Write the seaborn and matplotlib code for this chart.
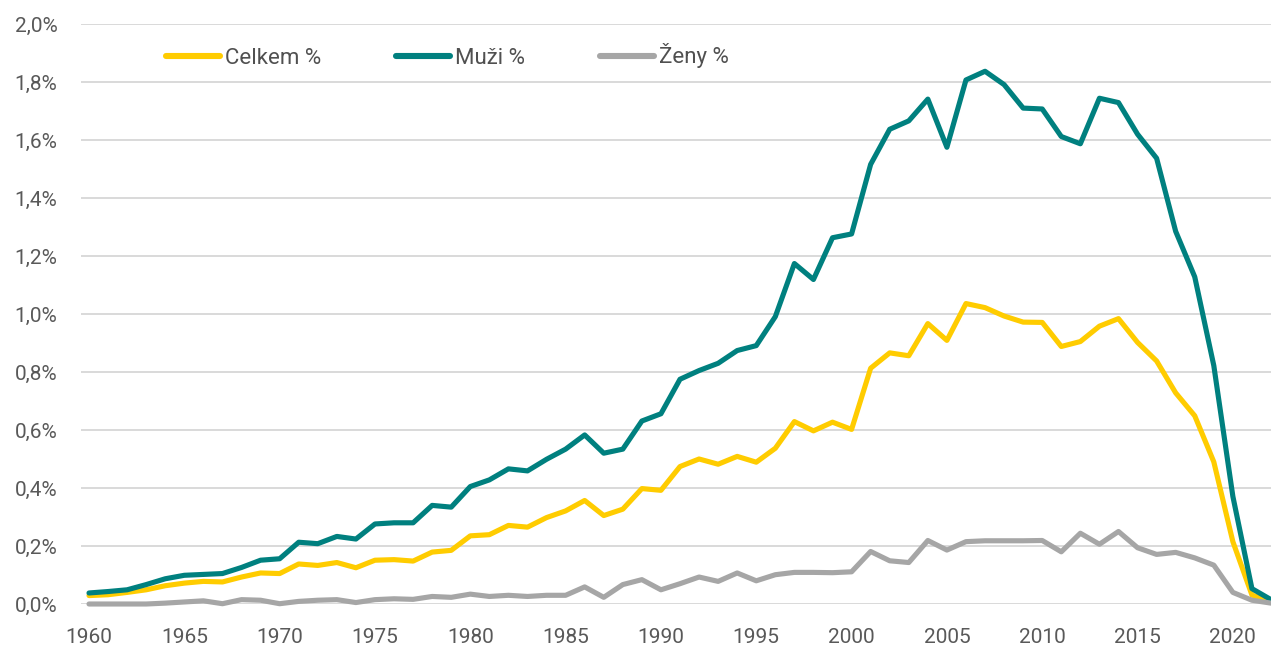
import numpy as np
import pandas as pd
import matplotlib
matplotlib.use("Agg")
import matplotlib.pyplot as plt
import seaborn as sns
from matplotlib.ticker import FuncFormatter

years = list(range(1960, 2023))

celkem = [0.029, 0.032, 0.040, 0.049, 0.063, 0.072, 0.078, 0.076, 0.093, 0.107,
          0.105, 0.138, 0.133, 0.143, 0.125, 0.151, 0.153, 0.148, 0.179, 0.185,
          0.235, 0.239, 0.271, 0.265, 0.298, 0.321, 0.357, 0.305, 0.327, 0.398,
          0.392, 0.474, 0.500, 0.482, 0.509, 0.489, 0.537, 0.629, 0.597, 0.627,
          0.602, 0.813, 0.866, 0.856, 0.967, 0.909, 1.036, 1.022, 0.993, 0.972,
          0.971, 0.888, 0.905, 0.958, 0.984, 0.902, 0.838, 0.728, 0.649, 0.490,
          0.215, 0.031, 0.008]

muzi = [0.038, 0.043, 0.049, 0.067, 0.087, 0.099, 0.102, 0.105, 0.126, 0.151,
        0.156, 0.213, 0.208, 0.233, 0.224, 0.276, 0.280, 0.280, 0.340, 0.334,
        0.405, 0.428, 0.466, 0.459, 0.499, 0.534, 0.583, 0.520, 0.534, 0.631,
        0.656, 0.775, 0.805, 0.830, 0.874, 0.891, 0.991, 1.174, 1.119, 1.263,
        1.276, 1.516, 1.637, 1.666, 1.741, 1.575, 1.807, 1.837, 1.791, 1.710,
        1.707, 1.612, 1.587, 1.744, 1.729, 1.620, 1.537, 1.285, 1.128, 0.822,
        0.371, 0.053, 0.015]

zeny = [0.0, 0.0, 0.0, 0.0, 0.003, 0.007, 0.011, 0.001, 0.015, 0.013,
        0.001, 0.009, 0.013, 0.015, 0.005, 0.015, 0.018, 0.016, 0.026, 0.023,
        0.034, 0.026, 0.030, 0.026, 0.030, 0.030, 0.059, 0.023, 0.067, 0.084,
        0.049, 0.070, 0.093, 0.078, 0.107, 0.080, 0.101, 0.109, 0.109, 0.108,
        0.111, 0.181, 0.149, 0.143, 0.219, 0.186, 0.215, 0.218, 0.218, 0.218,
        0.219, 0.180, 0.244, 0.206, 0.250, 0.194, 0.171, 0.178, 0.159, 0.134,
        0.040, 0.013, 0.003]

series_names = ["Celkem %", "Muži %", "Ženy %"]
colors = ["#FFCC00", "#00807F", "#A6A6A6"]

df = pd.DataFrame({
    "Rok": years * 3,
    "Hodnota": celkem + muzi + zeny,
    "Řada": [series_names[0]] * len(years) + [series_names[1]] * len(years) + [series_names[2]] * len(years),
})

sns.set_theme(style="white")
plt.rcParams["font.family"] = ["Roboto", "DejaVu Sans"]

W, H = 1271, 648
fig = plt.figure(figsize=(W / 100, H / 100), dpi=100)
ax = fig.add_axes([81 / W, (H - 604) / H, 1 - 81 / W, (604 - 24) / H])

sns.lineplot(data=df, x="Rok", y="Hodnota", hue="Řada", hue_order=series_names,
             palette=colors, linewidth=3.7, ax=ax, legend=True)
for line in ax.get_lines():
    line.set_solid_joinstyle("round")
    line.set_clip_on(False)

ax.set_xlim(1959.58, 2022)
ax.set_ylim(0, 2.0)
ax.set_yticks(np.arange(0, 2.01, 0.2))
ax.set_xticks(range(1960, 2021, 5))
ax.yaxis.set_major_formatter(FuncFormatter(lambda v, p: f"{v:.1f}%".replace(".", ",")))
ax.grid(axis="y", color="#D9D9D9", linewidth=1.4)
ax.grid(axis="x", visible=False)
ax.set_axisbelow(True)
for s in ax.spines.values():
    s.set_visible(False)
ax.set_xlabel("")
ax.set_ylabel("")
ax.tick_params(axis="both", length=0, labelsize=15, labelcolor="#595959")
ax.tick_params(axis="y", pad=17)
ax.tick_params(axis="x", pad=17)

handles, labels = ax.get_legend_handles_labels()
for h in handles:
    h.set_linewidth(4.4)
    h.set_solid_capstyle("round")
leg = ax.legend(handles, labels, ncol=3, frameon=False,
                loc="center left", bbox_to_anchor=(166 / W, 1 - 56 / H),
                bbox_transform=fig.transFigure, borderpad=0, borderaxespad=0,
                handlelength=2.45, handletextpad=0.22, columnspacing=3.35,
                fontsize=16)
for t in leg.get_texts():
    t.set_color("#505050")

fig.savefig("out.png", dpi=100)
